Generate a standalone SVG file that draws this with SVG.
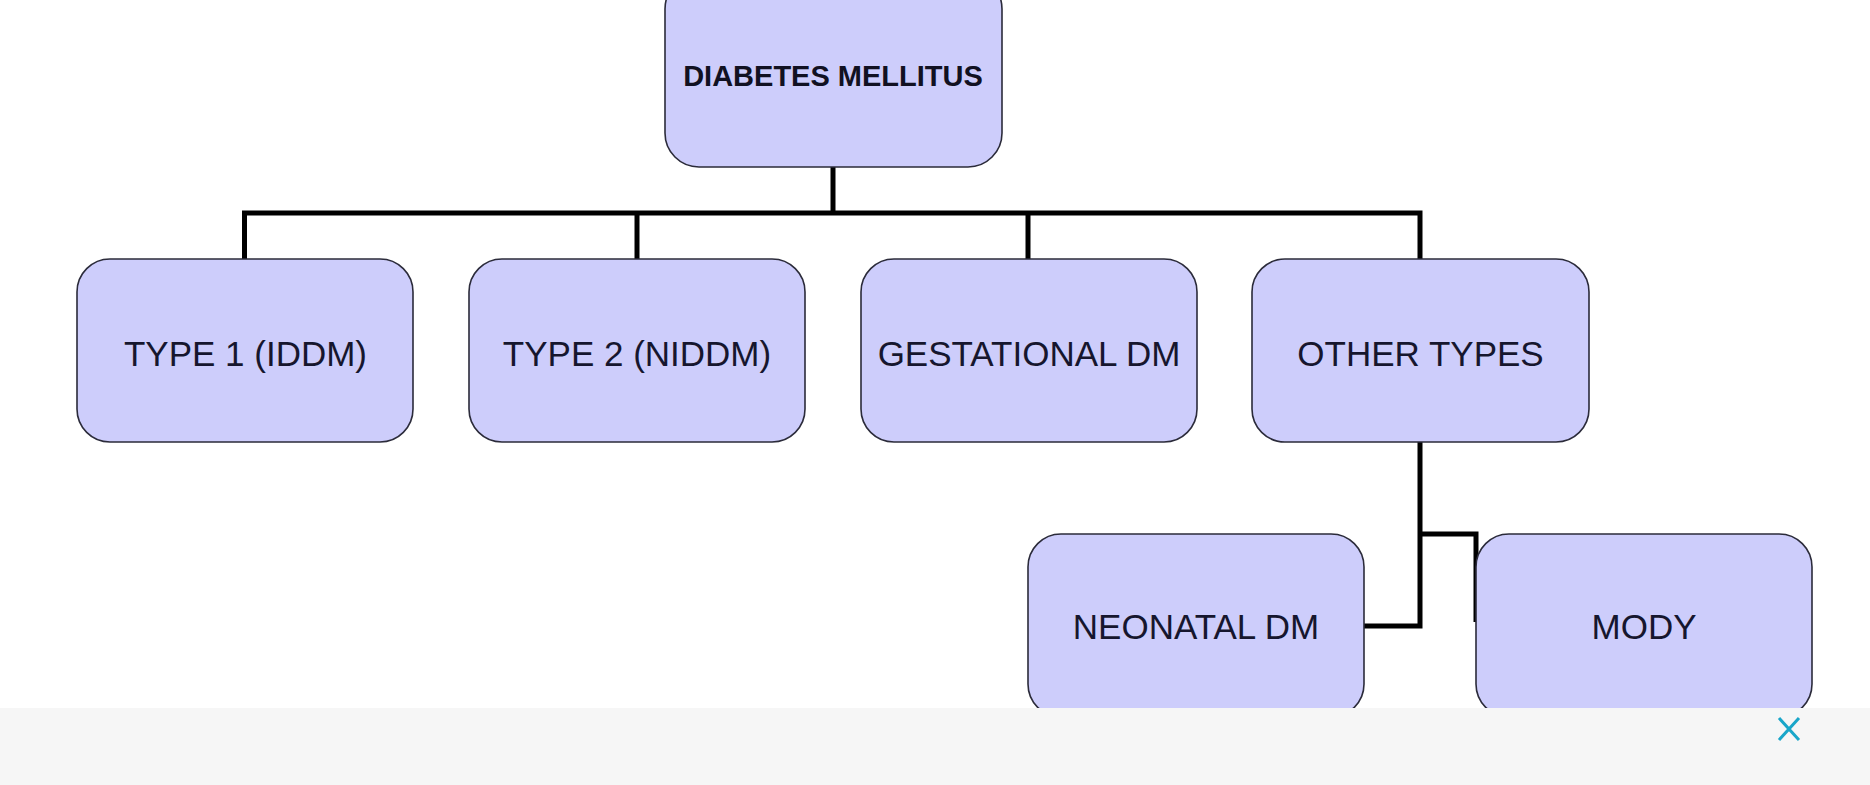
<svg xmlns="http://www.w3.org/2000/svg" width="1870" height="785" viewBox="0 0 1870 785">
  <style>
    .box { fill: #cdcdfb; stroke: #2b2b3a; stroke-width: 1.6; }
    .lbl { font-family: "Liberation Sans", Arial, sans-serif; font-size: 35px; fill: #16162e; text-anchor: middle; }
    .title { font-family: "Liberation Sans", Arial, sans-serif; font-size: 29px; font-weight: bold; fill: #111122; text-anchor: middle; }
    .conn { fill: none; stroke: #000; stroke-width: 5; stroke-linejoin: miter; }
  </style>
  <rect x="0" y="0" width="1870" height="785" fill="#ffffff"/>
  <g id="connectors">
    <path class="conn" d="M833,167 V213"/>
    <path class="conn" d="M244.5,259 V213 H1420 V259"/>
    <path class="conn" d="M637,213 V259"/>
    <path class="conn" d="M1028,213 V259"/>
    <path class="conn" d="M1420,442 V626 H1364"/>
    <path class="conn" d="M1420,534 H1476 V622"/>
  </g>
  <g id="node-dm">
    <rect class="box" x="665" y="-25" width="337" height="192" rx="34"/>
    <text class="title" x="833" y="86">DIABETES MELLITUS</text>
  </g>
  <g id="node-type1">
    <rect class="box" x="77" y="259" width="336" height="183" rx="33"/>
    <text class="lbl" x="245.5" y="365.5">TYPE 1 (IDDM)</text>
  </g>
  <g id="node-type2">
    <rect class="box" x="469" y="259" width="336" height="183" rx="33"/>
    <text class="lbl" x="637" y="365.5">TYPE 2 (NIDDM)</text>
  </g>
  <g id="node-gestational">
    <rect class="box" x="861" y="259" width="336" height="183" rx="33"/>
    <text class="lbl" x="1029" y="365.5">GESTATIONAL DM</text>
  </g>
  <g id="node-other">
    <rect class="box" x="1252" y="259" width="337" height="183" rx="33"/>
    <text class="lbl" x="1420.5" y="365.5">OTHER TYPES</text>
  </g>
  <g id="node-neonatal">
    <rect class="box" x="1028" y="534" width="336" height="183" rx="33"/>
    <text class="lbl" x="1196" y="639">NEONATAL DM</text>
  </g>
  <g id="node-mody">
    <rect class="box" x="1476" y="534" width="336" height="183" rx="33"/>
    <text class="lbl" x="1644" y="639">MODY</text>
  </g>
  <g id="overlay-band">
    <rect x="0" y="708" width="1870" height="77" fill="#f6f6f6"/>
    <path d="M1779,718 L1799,740 M1799,718 L1779,740" stroke="#1aa6c9" stroke-width="3" fill="none"/>
  </g>
</svg>
